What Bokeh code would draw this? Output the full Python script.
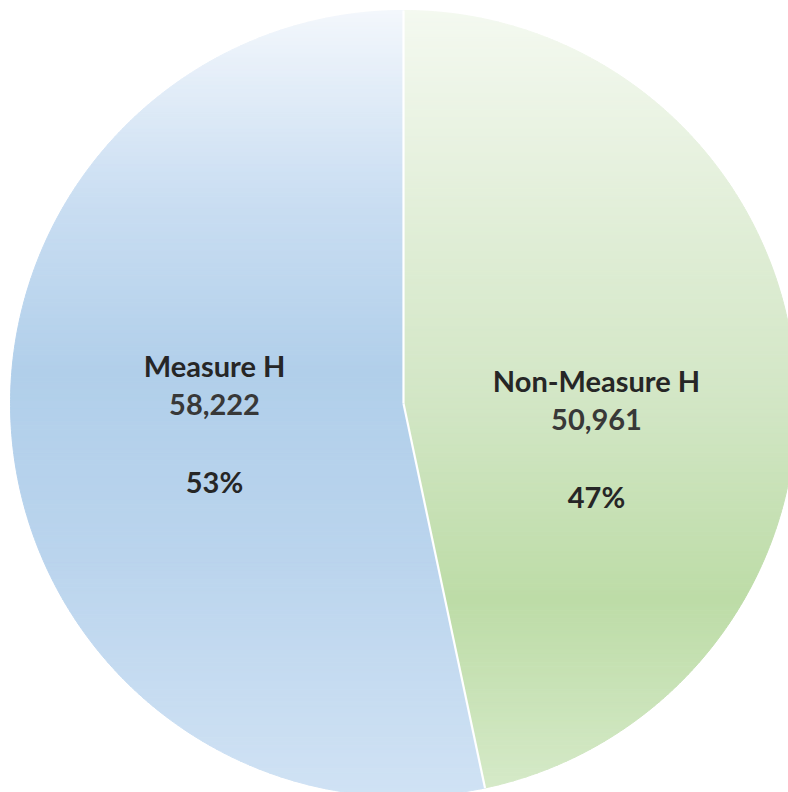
import numpy as np
from bokeh.plotting import figure
from bokeh.models import Range1d
from bokeh.core.properties import value
from bokeh.embed import file_html
from bokeh.resources import INLINE

# --- data -------------------------------------------------------------
categories = ["Non-Measure H", "Measure H"]
counts = [50961, 58222]

# --- layout / style ---------------------------------------------------
W, H = 788, 792
CX, CY, R = 403.0, 403.0, 393.0

# vertical gradient stops (fraction of pie height from the top, colour)
GRADIENTS = {
    "Non-Measure H": [(0.00, "#f4f9f0"), (0.30, "#dfedd5"), (0.50, "#d2e6c5"),
                      (0.75, "#bddca7"), (1.00, "#d6eac9")],
    "Measure H": [(0.00, "#f3f7fc"), (0.24, "#cadef2"), (0.46, "#b1cfea"),
                  (0.69, "#bad4ed"), (1.00, "#d0e2f4")],
}
# baseline of the first label line for each slice
LABEL_ANCHORS = {"Non-Measure H": (596, 380), "Measure H": (214, 365)}
LINE_H = 38.5
FONT = value("Lato")
FONT_SIZE = "29px"


def hex_to_rgb(h):
    h = h.lstrip("#")
    return np.array([int(h[i:i + 2], 16) for i in (0, 2, 4)], dtype=float)


def gradient_color(stops, t):
    for (t0, c0), (t1, c1) in zip(stops[:-1], stops[1:]):
        if t <= t1:
            f = (t - t0) / (t1 - t0) if t1 > t0 else 0.0
            rgb = hex_to_rgb(c0) * (1 - f) + hex_to_rgb(c1) * f
            return "#%02x%02x%02x" % tuple(int(round(v)) for v in rgb)
    return stops[-1][1]


def clip_half(poly, y_lim, keep_above):
    """Sutherland-Hodgman clip of a polygon against a horizontal line."""
    def inside(p):
        return p[1] >= y_lim if keep_above else p[1] <= y_lim

    out = []
    n = len(poly)
    for i in range(n):
        cur, prev = poly[i], poly[i - 1]
        cin, pin = inside(cur), inside(prev)
        if cin != pin:
            t = (y_lim - prev[1]) / (cur[1] - prev[1])
            out.append((prev[0] + t * (cur[0] - prev[0]), y_lim))
        if cin:
            out.append(cur)
    return out


def slice_polygon(a0, a1):
    # angles measured clockwise from 12 o'clock, screen y pointing down
    n = max(int((a1 - a0) / (2 * np.pi) * 720), 8)
    t = np.linspace(a0, a1, n)
    pts = [(CX, CY)] + [(CX + R * np.sin(a), CY - R * np.cos(a)) for a in t]
    return pts


total = float(sum(counts))
fractions = [c / total for c in counts]
starts = np.concatenate([[0.0], np.cumsum(fractions)[:-1]]) * 2 * np.pi
ends = np.cumsum(fractions) * 2 * np.pi

p = figure(width=W, height=H, x_range=Range1d(0, W), y_range=Range1d(H, 0),
           output_backend="svg", toolbar_location=None, min_border=0)
p.axis.visible = False
p.grid.visible = False
p.outline_line_color = None
p.background_fill_color = "white"
p.border_fill_color = "white"

# gradient-filled slices, built from thin horizontal bands
band_edges = np.linspace(CY - R, CY + R, 200)
xs, ys, cols = [], [], []
for cat, a0, a1 in zip(categories, starts, ends):
    poly = slice_polygon(a0, a1)
    stops = GRADIENTS[cat]
    for y0, y1 in zip(band_edges[:-1], band_edges[1:]):
        piece = clip_half(clip_half(poly, y0, True), y1, False)
        if len(piece) < 3:
            continue
        xs.append([q[0] for q in piece])
        ys.append([q[1] for q in piece])
        cols.append(gradient_color(stops, ((y0 + y1) / 2 - (CY - R)) / (2 * R)))

p.patches(xs, ys, fill_color=cols, line_color=cols, line_width=1.0)

# white separators between slices
sep_x, sep_y = [], []
for a in starts:
    sep_x.append([CX, CX + R * np.sin(a)])
    sep_y.append([CY, CY - R * np.cos(a)])
p.multi_line(sep_x, sep_y, line_color="white", line_width=2.2)

# data labels: name, value, blank line, percentage
for cat, c, frac in zip(categories, counts, fractions):
    x, y = LABEL_ANCHORS[cat]
    p.text(x=[x, x, x], y=[y, y + LINE_H, y + 3 * LINE_H],
           text=[cat, f"{c:,}", f"{round(frac * 100)}%"],
           text_color=["#262626", "#383838", "#262626"],
           text_font=FONT, text_font_style="bold", text_font_size=FONT_SIZE,
           text_align="center", text_baseline="alphabetic")

open("out.html", "w").write(file_html(p, INLINE))
